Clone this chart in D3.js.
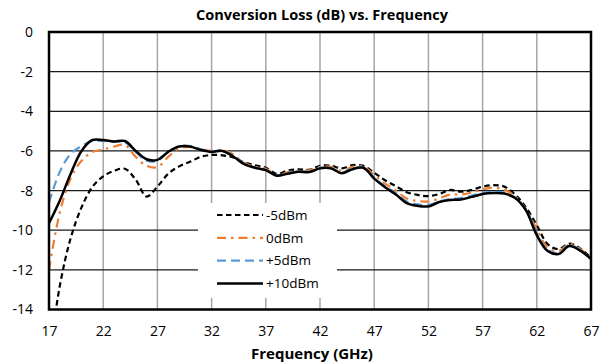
<!DOCTYPE html>
<html>
<head>
<meta charset="utf-8">
<script src="https://cdn.jsdelivr.net/npm/d3@7"></script>
<style>
  html, body { margin: 0; padding: 0; background: #fff; }
  svg { display: block; }
</style>
</head>
<body>
<div id="chart"></div>
<script>
// ---- Data ----
const freq = [17,18,19,20,21,22,23,24,25,26,27,28,29,30,31,32,33,34,35,36,37,38,39,40,41,42,43,44,45,46,47,48,49,50,51,52,53,54,55,56,57,58,59,60,61,62,63,64,65,66,67];

const lossM5 = [-16.5,-12.8,-10.4,-8.85,-7.82,-7.28,-7.0,-6.9,-7.45,-8.3,-7.8,-7.15,-6.78,-6.55,-6.3,-6.2,-6.22,-6.33,-6.58,-6.72,-6.85,-7.15,-7.0,-6.93,-6.95,-6.75,-6.75,-6.88,-6.72,-6.75,-7.1,-7.48,-7.78,-8.08,-8.22,-8.28,-8.17,-7.97,-8.06,-7.97,-7.8,-7.73,-7.8,-8.2,-8.85,-9.75,-10.7,-10.95,-10.68,-10.92,-11.4];

const loss0 = [-12.0,-9.1,-7.38,-6.5,-6.05,-5.93,-5.78,-5.7,-6.3,-6.75,-6.82,-6.3,-5.88,-5.8,-5.9,-6.0,-5.95,-6.18,-6.6,-6.8,-6.9,-7.2,-7.08,-7.0,-6.98,-6.8,-6.8,-7.0,-6.8,-6.78,-7.22,-7.65,-8.0,-8.4,-8.52,-8.55,-8.4,-8.2,-8.2,-8.1,-7.93,-7.85,-7.95,-8.3,-8.95,-9.95,-10.88,-11.05,-10.7,-10.95,-11.42];

const lossP5 = [-8.6,-7.05,-6.15,-5.75,-5.5,-5.5,-5.55,-5.55,-6.05,-6.5,-6.5,-6.05,-5.78,-5.75,-5.92,-6.02,-5.98,-6.25,-6.63,-6.82,-6.95,-7.22,-7.12,-7.02,-7.03,-6.85,-6.85,-7.08,-6.88,-6.82,-7.35,-7.78,-8.13,-8.55,-8.7,-8.72,-8.55,-8.42,-8.38,-8.25,-8.12,-8.07,-8.1,-8.35,-8.95,-10.15,-11.0,-11.15,-10.75,-11.0,-11.43];

const lossP10 = [-9.65,-8.5,-7.15,-6.0,-5.45,-5.45,-5.52,-5.5,-6.0,-6.42,-6.45,-6.05,-5.78,-5.78,-5.95,-6.05,-6.0,-6.28,-6.67,-6.85,-6.97,-7.25,-7.15,-7.05,-7.07,-6.88,-6.88,-7.12,-6.92,-6.85,-7.4,-7.83,-8.2,-8.63,-8.77,-8.8,-8.58,-8.47,-8.45,-8.32,-8.17,-8.12,-8.15,-8.38,-9.0,-10.25,-11.05,-11.2,-10.8,-11.03,-11.45];

const seriesNames = ["-5dBm", "0dBm", "+5dBm", "+10dBm"];
const xTicks = [17,22,27,32,37,42,47,52,57,62,67];
const yTicks = [0,-2,-4,-6,-8,-10,-12,-14];
const title = "Conversion Loss (dB) vs. Frequency";
const xTitle = "Frequency (GHz)";

// ---- Styles ----
const styles = [
  { color: "#000000", width: 2.2, dash: "5.5,3.5" },
  { color: "#ED7D31", width: 2.2, dash: "9,5,2.5,5" },
  { color: "#5B9BD5", width: 2.2, dash: "9,5" },
  { color: "#000000", width: 2.5, dash: null }
];
const seriesData = [lossM5, loss0, lossP5, lossP10];

const W = 600, H = 364;
const m = { left: 49, right: 9, top: 32, bottom: 54.5 };
const font = "'Open Sans', 'Noto Sans', sans-serif";

const svg = d3.select("#chart").append("svg").attr("width", W).attr("height", H);

const x = d3.scaleLinear().domain([17, 67]).range([m.left, W - m.right]);
const y = d3.scaleLinear().domain([-14, 0]).range([H - m.bottom, m.top]);

// Grid lines
svg.append("g").selectAll("line.v").data(xTicks.slice(1, -1)).join("line")
  .attr("x1", d => x(d)).attr("x2", d => x(d))
  .attr("y1", y(0)).attr("y2", y(-14))
  .attr("stroke", "#a6a6a6").attr("stroke-width", 1.5);
svg.append("g").selectAll("line.h").data(yTicks.slice(1, -1)).join("line")
  .attr("x1", x(17)).attr("x2", x(67))
  .attr("y1", d => y(d)).attr("y2", d => y(d))
  .attr("stroke", "#1a1a1a").attr("stroke-width", 1.2);

// Axes (labels only)
const xAxis = svg.append("g").attr("transform", `translate(0,${y(-14)})`)
  .call(d3.axisBottom(x).tickValues(xTicks).tickSize(0).tickPadding(17).tickFormat(d => String(d)));
const yAxis = svg.append("g").attr("transform", `translate(${x(17)},0)`)
  .call(d3.axisLeft(y).tickValues(yTicks).tickSize(0).tickPadding(16).tickFormat(d => String(d)));
[xAxis, yAxis].forEach(a => {
  a.select(".domain").remove();
  a.selectAll("text").attr("font-family", font).attr("font-size", 14).attr("fill", "#000");
});

// Clip
svg.append("clipPath").attr("id", "clip").append("rect")
  .attr("x", x(17)).attr("y", y(0)).attr("width", x(67) - x(17)).attr("height", y(-14) - y(0));

const line = d3.line().x((d, i) => x(freq[i])).y(d => y(d)).curve(d3.curveCatmullRom.alpha(0.5));

const lines = svg.append("g").attr("clip-path", "url(#clip)");
seriesData.forEach((vals, k) => {
  lines.append("path").datum(vals)
    .attr("d", line)
    .attr("fill", "none")
    .attr("stroke", styles[k].color)
    .attr("stroke-width", styles[k].width)
    .attr("stroke-dasharray", styles[k].dash)
    .attr("stroke-linejoin", "round");
});

// Plot border
svg.append("rect")
  .attr("x", x(17)).attr("y", y(0)).attr("width", x(67) - x(17)).attr("height", y(-14) - y(0))
  .attr("fill", "none").attr("stroke", "#000").attr("stroke-width", 2.5);

// Legend
const lg = svg.append("g");
lg.append("rect").attr("x", 198).attr("y", 203).attr("width", 139).attr("height", 95).attr("fill", "#fff");
seriesNames.forEach((name, k) => {
  const yy = 215 + k * 22.8;
  lg.append("line").attr("x1", 217).attr("x2", 263).attr("y1", yy).attr("y2", yy)
    .attr("stroke", styles[k].color).attr("stroke-width", styles[k].width)
    .attr("stroke-dasharray", styles[k].dash);
  lg.append("text").attr("x", 266).attr("y", yy).attr("dy", "0.35em")
    .attr("font-family", font).attr("font-size", 13.5).attr("fill", "#000").text(name);
});

// Titles
svg.append("text").attr("x", 322).attr("y", 20)
  .attr("text-anchor", "middle").attr("font-family", font).attr("font-weight", "bold")
  .attr("font-size", 14.5).attr("fill", "#000").text(title);
svg.append("text").attr("x", 312).attr("y", 359)
  .attr("text-anchor", "middle").attr("font-family", font).attr("font-weight", "bold")
  .attr("font-size", 15).attr("fill", "#000").text(xTitle);
</script>
</body>
</html>
